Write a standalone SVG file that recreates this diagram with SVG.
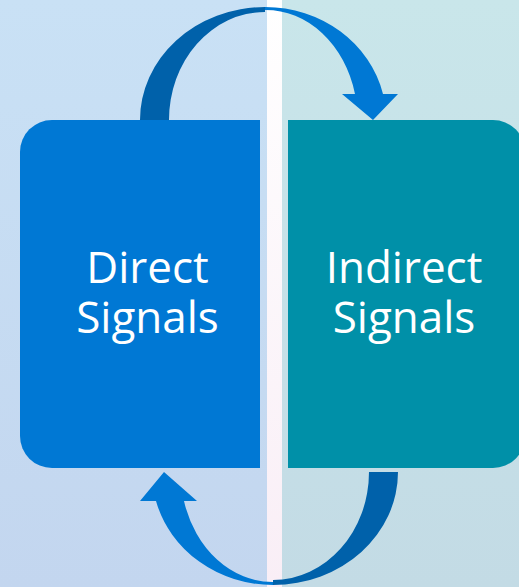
<svg xmlns="http://www.w3.org/2000/svg" width="519" height="587" viewBox="0 0 519 587">
  <defs>
    <linearGradient id="bgL" x1="0" y1="0" x2="0" y2="1">
      <stop offset="0" stop-color="#c9e1f5"/>
      <stop offset="1" stop-color="#c3d6ef"/>
    </linearGradient>
    <linearGradient id="bgR" x1="0" y1="0" x2="0" y2="1">
      <stop offset="0" stop-color="#c9e6ea"/>
      <stop offset="1" stop-color="#c3dbe5"/>
    </linearGradient>
    <linearGradient id="strip" x1="0" y1="0" x2="0" y2="1">
      <stop offset="0" stop-color="#ffffff"/>
      <stop offset="1" stop-color="#f9eef6"/>
    </linearGradient>
  </defs>
  <style>
    .lbl { font-family: "Segoe UI", "Open Sans", "Noto Sans", sans-serif; font-size: 44px; fill: #ffffff; text-anchor: middle; }
    .dark { fill: #0061aa; }
    .light { fill: #0078d4; }
  </style>

  <g id="background">
    <rect x="0" y="0" width="267" height="587" fill="url(#bgL)"/>
    <rect x="282" y="0" width="237" height="587" fill="url(#bgR)"/>
    <rect x="267" y="0" width="15" height="587" fill="url(#strip)"/>
  </g>

  <g id="connectors">
    <g id="arrow-top">
      <path class="dark" d="M140,121 A125,113 0 0 1 265,7 L265,12 A96,108 0 0 0 169,121 Z"/>
      <path class="light" d="M265,7 A121,113 0 0 1 383,94 L398,94 L373,120 L342,94 L355,94 A92,110 0 0 0 265,10 Z"/>
    </g>
    <g id="arrow-bottom">
      <path class="dark" d="M398,472 A125,113 0 0 1 273,585 L273,580 A96,108 0 0 0 369,472 Z"/>
      <path class="light" d="M273,585 A121,113 0 0 1 156,501 L140,501 L164,472 L197,501 L184,501 A92,110 0 0 0 273,582 Z"/>
    </g>
  </g>

  <g id="node-direct">
    <path d="M52,120 H260 V468 H52 A32,32 0 0 1 20,436 V152 A32,32 0 0 1 52,120 Z" fill="#0078d4"/>
    <text class="lbl"><tspan x="147.5" y="283">Direct</tspan><tspan x="147.5" y="333">Signals</tspan></text>
  </g>

  <g id="node-indirect">
    <path d="M288,120 H493 A32,32 0 0 1 525,152 V436 A32,32 0 0 1 493,468 H288 Z" fill="#0090a8"/>
    <text class="lbl"><tspan x="404" y="283">Indirect</tspan><tspan x="404" y="333">Signals</tspan></text>
  </g>
</svg>
